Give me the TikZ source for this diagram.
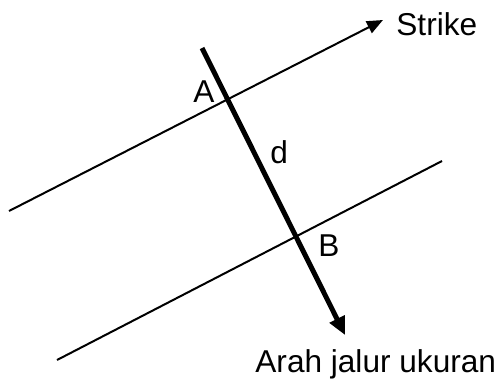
\documentclass[tikz,border=0pt]{standalone}
\usepackage{fontspec}
\setmainfont{Liberation Sans}
\usetikzlibrary{arrows.meta,positioning}
\tikzset{
  bedline/.style={line width=1pt, color=black},
  strikeline/.style={line width=1pt, color=black,
    -{Triangle[length=8pt, width=6.5pt]}},
  traverse/.style={line width=2.5pt, color=black,
    -{Triangle[length=9pt, width=8pt]}},
  lbl/.style={font=\fontsize{15.8}{19}\selectfont, inner sep=0pt},
}
\begin{document}
\begin{tikzpicture}[x=0.5pt, y=-0.5pt]
  \useasboundingbox (0,0) rectangle (501,380);

  % End points
  \coordinate (up1) at (9,211);
  \coordinate (up2) at (383,20);
  \coordinate (lo1) at (57,360);
  \coordinate (lo2) at (442,161);
  \coordinate (tr1) at (202,48);
  \coordinate (tr2) at (345,335);

  % Bedding planes
  \draw[strikeline] (up1) -- (up2);
  \draw[bedline] (lo1) -- (lo2);

  % Measuring traverse
  \draw[traverse] (tr1) -- (tr2);

  % Labels
  \node[lbl, anchor=base west] (strike) at (396,35) {Strike};
  \node[lbl, anchor=base west] (ptA) at (193,102) {A};
  \node[lbl, anchor=base west] (dist) at (270,163) {d};
  \node[lbl, anchor=base west] (ptB) at (318,256) {B};
  \node[lbl, anchor=base west] (dir) at (255,372) {Arah jalur ukuran};

\end{tikzpicture}
\end{document}
